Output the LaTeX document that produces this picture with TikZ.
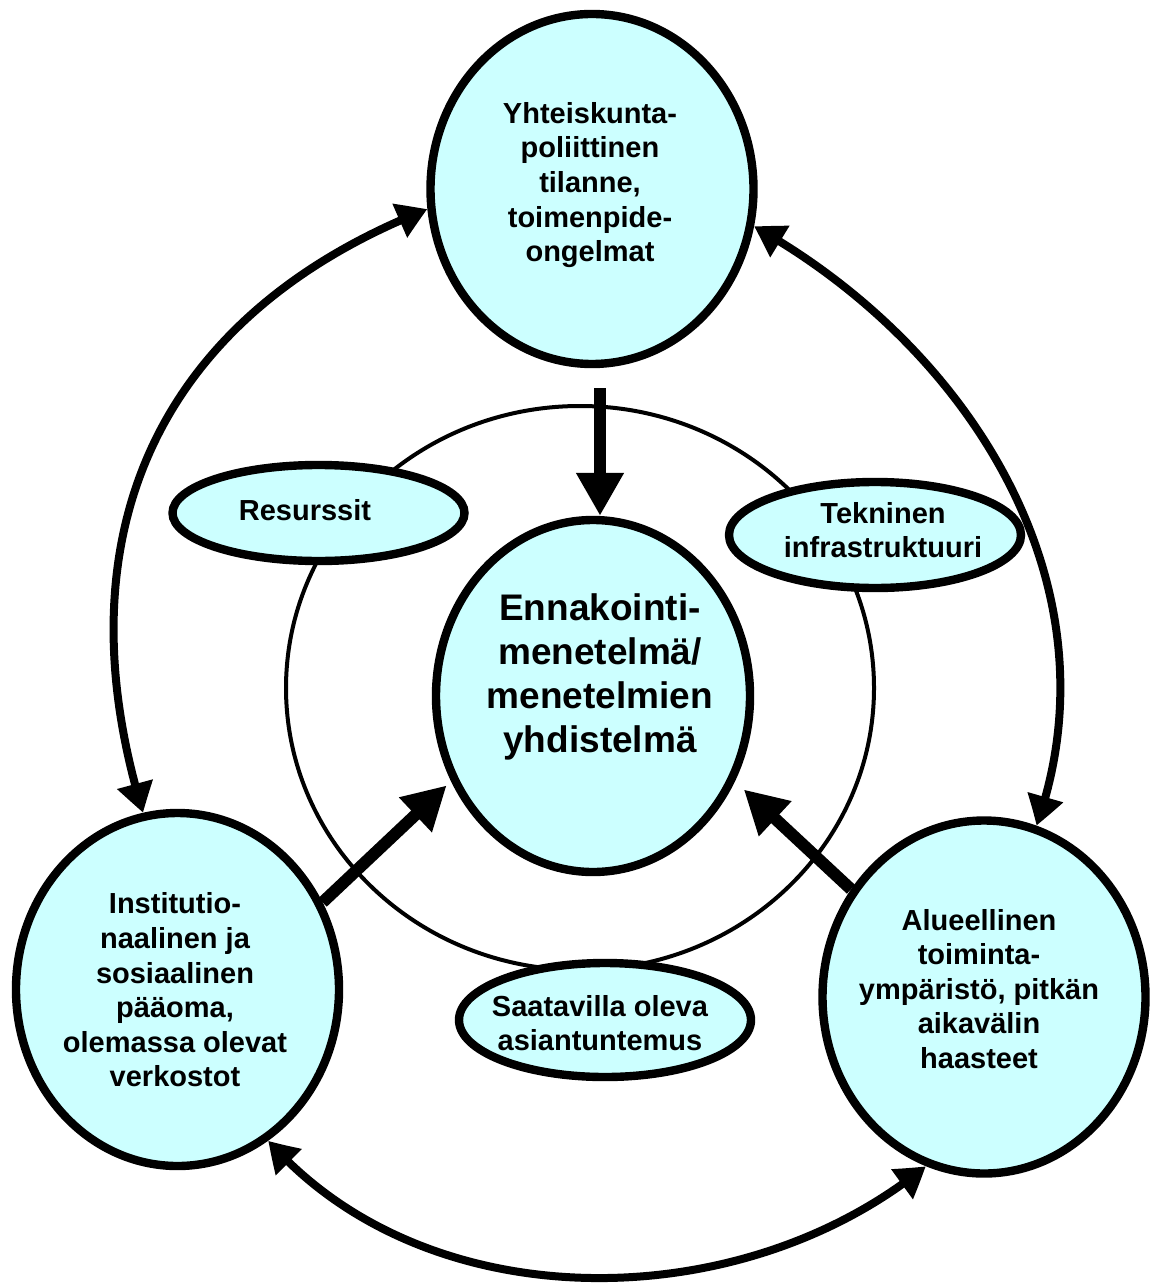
\documentclass[tikz,border=0pt]{standalone}
\usepackage{fontspec}
\setmainfont{Liberation Sans}
\usetikzlibrary{shapes.geometric,arrows.meta,bending}
\definecolor{bubblefill}{RGB}{204,255,255}

\tikzset{
  bubble/.style={ellipse, draw=black, line width=4.2pt, fill=bubblefill, inner sep=0pt},
  ringstyle/.style={ellipse, draw=black, line width=2pt, inner sep=0pt},
  lbl/.style={align=center, inner sep=0pt, font=\bfseries\fontsize{14.5pt}{17.3pt}\selectfont},
  biglbl/.style={align=center, inner sep=0pt, font=\bfseries\fontsize{18.5pt}{22pt}\selectfont},
  looparrow/.style={line width=4pt, {Triangle[length=15pt,width=17.5pt,bend]}-{Triangle[length=15pt,width=17.5pt,bend]}},
  pusharrow/.style={line width=6pt, -{Triangle[length=21.5pt,width=22.5pt]}},
}

\begin{document}
\begin{tikzpicture}[x=0.5pt, y=-0.5pt]
\useasboundingbox (0,0) rectangle (1151,1283);

% thin ring behind the small ellipses
\node[ringstyle, minimum width=294pt, minimum height=282pt] (ring) at (580,688) {};

% small ellipses on the ring
\node[bubble, minimum width=146pt, minimum height=48pt] (res) at (318.5,513) {};
\node[bubble, minimum width=146pt, minimum height=53pt] (tek) at (875,535) {};
\node[bubble, minimum width=146pt, minimum height=57pt] (saa) at (605,1020) {};

% large ellipses
\node[bubble, minimum width=161.5pt, minimum height=175pt] (T) at (592,189) {};
\node[bubble, minimum width=161.5pt, minimum height=176.5pt] (L) at (177.5,989.5) {};
\node[bubble, minimum width=161.5pt, minimum height=176.5pt] (R) at (984,997) {};
\node[bubble, minimum width=157pt, minimum height=176pt] (C) at (593,696) {};

% texts
\node[lbl] (restext) at (305,510) {Resurssit};
\node[lbl] (tektext) at (883,530) {Tekninen\\infrastruktuuri};
\node[lbl] (saatext) at (600,1023) {Saatavilla oleva\\asiantuntemus};
\node[lbl] (Ttext) at (590,185) {Yhteiskunta-\\poliittinen\\tilanne,\\toimenpide-\\ongelmat};
\node[lbl] (Ltext) at (175,990) {Institutio-\\naalinen ja\\sosiaalinen\\pääoma,\\olemassa olevat\\verkostot};
\node[lbl] (Rtext) at (979,989) {Alueellinen\\toiminta-\\ympäristö, pitkän\\aikavälin\\haasteet};
\node[biglbl] (Ctext) at (600,677) {Ennakointi-\\menetelmä/\\menetelmien\\yhdistelmä};

% thick arrows into the centre
\draw[pusharrow, shorten <=10pt] ([xshift=4pt]T.south) -- ([xshift=3.5pt]C.north);
\draw[pusharrow, shorten >=3pt] (L.31) -- (C.211);
\draw[pusharrow, shorten >=6pt] (R.141) -- (C.329);

% curved two-way arrows between the outer ellipses
\draw[looparrow] (T.187) .. controls +(-270,106) and +(-85,-277) .. (L.101);
\draw[looparrow] (T.347.5) .. controls +(215,120) and +(85,-240) .. (R.73);
\draw[looparrow] (L.301) .. controls +(158,180) and +(-186,152) .. (R.251);
\end{tikzpicture}
\end{document}
